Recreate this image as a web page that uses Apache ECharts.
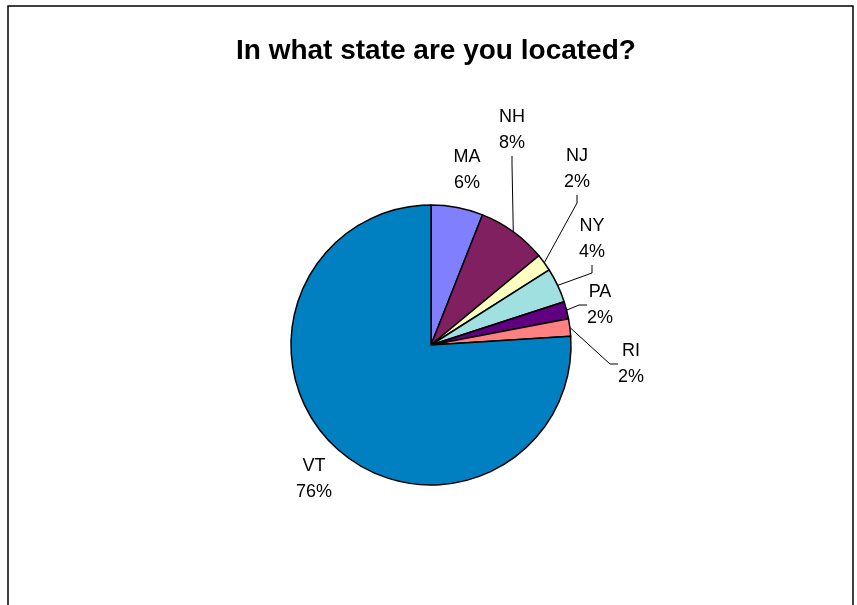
<!DOCTYPE html>
<html>
<head>
<meta charset="utf-8">
<script src="https://cdn.jsdelivr.net/npm/echarts@6/dist/echarts.min.js"></script>
<style>
  html, body { margin: 0; padding: 0; background: #fff; }
  #chart { width: 857px; height: 605px; }
</style>
</head>
<body>
<div id="chart"></div>
<script>
// Survey answers: share of respondents by state (percent)
var states = ['MA', 'NH', 'NJ', 'NY', 'PA', 'RI', 'VT'];
var shares = [6, 8, 2, 4, 2, 2, 76];
var sliceColors = ['#8080FF', '#802060', '#FFFFC0', '#A0E0E0', '#600080', '#FF8080', '#0080C0'];

// Where each two-line label sits (centre of the text block), and whether it gets a leader line
var labelSpots = {
  MA: { x: 467, y: 170, line: false },
  NH: { x: 512, y: 130, line: true },
  NJ: { x: 577, y: 169, line: true },
  NY: { x: 592, y: 239, line: true },
  PA: { x: 600, y: 305, line: true },
  RI: { x: 631, y: 364, line: true },
  VT: { x: 314, y: 479, line: false }
};

var chart = echarts.init(document.getElementById('chart'), null, { renderer: 'canvas' });

var pieData = states.map(function (s, i) {
  return {
    name: s,
    value: shares[i],
    itemStyle: { color: sliceColors[i] },
    labelLine: { show: labelSpots[s].line }
  };
});

chart.setOption({
  animation: false,
  backgroundColor: '#ffffff',
  title: {
    text: 'In what state are you located?',
    left: 231,
    top: 32,
    textStyle: {
      fontFamily: 'Liberation Sans, Arial, sans-serif',
      fontWeight: 'bold',
      fontSize: 28,
      color: '#000'
    }
  },
  graphic: [{
    type: 'rect',
    shape: { x: 8, y: 6, width: 845, height: 620 },
    style: { fill: 'none', stroke: '#000', lineWidth: 1.5 },
    silent: true,
    z: 100
  }],
  series: [{
    type: 'pie',
    center: [431, 345],
    radius: [0, 140],
    startAngle: 90,
    clockwise: true,
    avoidLabelOverlap: false,
    data: pieData,
    itemStyle: { borderColor: '#000', borderWidth: 1.5 },
    emphasis: { disabled: true },
    label: {
      show: true,
      position: 'outside',
      formatter: '{b}\n{d}%',
      fontFamily: 'Liberation Sans, Arial, sans-serif',
      fontSize: 18,
      lineHeight: 26,
      color: '#000',
      align: 'center'
    },
    labelLine: {
      show: true,
      length: 10,
      length2: 8,
      smooth: false,
      lineStyle: { color: '#000', width: 1 }
    },
    labelLayout: function (params) {
      var name = states[params.dataIndex];
      var spot = labelSpots[name];
      return {
        x: spot.x,
        y: spot.y,
        align: 'center',
        verticalAlign: 'middle'
      };
    }
  }]
});
</script>
</body>
</html>
